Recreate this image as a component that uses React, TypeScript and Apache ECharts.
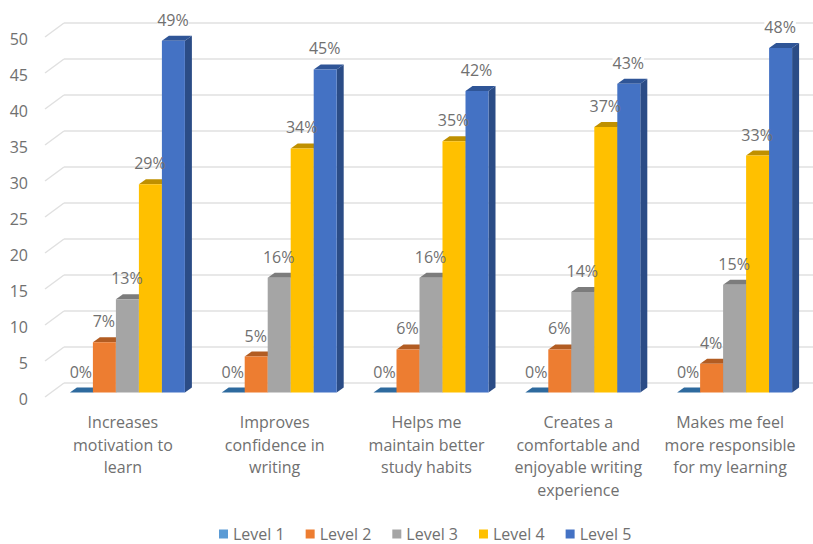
import React, { useEffect, useRef } from "react";
import * as echarts from "echarts";

const categories = [
  "Increases\nmotivation to\nlearn",
  "Improves\nconfidence in\nwriting",
  "Helps me\nmaintain better\nstudy habits",
  "Creates a\ncomfortable and\nenjoyable writing\nexperience",
  "Makes me feel\nmore responsible\nfor my learning",
];
const levelNames = ["Level 1", "Level 2", "Level 3", "Level 4", "Level 5"];
const level1 = [0, 0, 0, 0, 0];
const level2 = [7, 5, 6, 6, 4];
const level3 = [13, 16, 16, 14, 15];
const level4 = [29, 34, 35, 37, 33];
const level5 = [49, 45, 42, 43, 48];
const levels = [level1, level2, level3, level4, level5];
const yTicks = [0, 5, 10, 15, 20, 25, 30, 35, 40, 45, 50];

const FRONT = ["#5B9BD5", "#ED7D31", "#A5A5A5", "#FFC000", "#4472C4"];
const TOP = ["#2E6A9E", "#B25C22", "#7C7C7C", "#BF9000", "#2F5597"];
const SIDE = ["#2E6A9E", "#B25C22", "#7C7C7C", "#BF9000", "#2B4C86"];
const TEXT = "#707070";
const FONT = "'Open Sans', sans-serif";
const GRID_LINE = "#E0E0E0";

const BAR_W = 23;
const DX = 7;
const DY = 5;
const FRONT_SHIFT = 9.5;
const FRONT_SCALE = 0.997;

export default function App() {
  const ref = useRef<HTMLDivElement>(null);
  useEffect(() => {
    const chart = echarts.init(ref.current!, undefined, { renderer: "svg" });
    const wall: any = {
      type: "custom",
      silent: true,
      z: 1,
      clip: false,
      data: yTicks.map((t) => [0, t]),
      encode: { x: 0, y: 1 },
      renderItem: (params: any, api: any) => {
        const y = api.coord([0, api.value(1)])[1];
        const style = { stroke: GRID_LINE, lineWidth: 1.5, fill: "none" };
        return {
          type: "group",
          children: [
            { type: "line", shape: { x1: 64, y1: y, x2: 813, y2: y }, style },
            { type: "line", shape: { x1: 45, y1: y + 14, x2: 64, y2: y }, style },
          ],
        };
      },
    };
    const barTop = (api: any) => {
      const p = api.coord([api.value(0), api.value(1)]);
      const b = api.coord([api.value(0), 0]);
      const yb = b[1] + FRONT_SHIFT;
      return { x: p[0], yb, yt: yb - (b[1] - p[1]) * FRONT_SCALE };
    };
    const bars: any[] = levels.map((vals, i) => ({
      type: "custom",
      name: levelNames[i],
      z: 2 + i,
      clip: false,
      itemStyle: { color: FRONT[i] },
      data: vals.map((v, c) => [c, v]),
      encode: { x: 0, y: 1 },
      renderItem: (params: any, api: any) => {
        const { x, yb, yt } = barTop(api);
        const x0 = x + (i - 2) * BAR_W - BAR_W / 2 + 0.5;
        const x1 = x0 + BAR_W;
        const children: any[] = [
          {
            type: "polygon",
            shape: { points: [[x1, yb], [x1 + DX, yb - DY], [x1 + DX, yt - DY], [x1, yt]] },
            style: { fill: SIDE[i] },
          },
          {
            type: "polygon",
            shape: { points: [[x0, yt], [x1, yt], [x1 + DX, yt - DY], [x0 + DX, yt - DY]] },
            style: { fill: TOP[i] },
          },
        ];
        if (yb > yt) {
          children.push({
            type: "rect",
            shape: { x: x0, y: yt, width: BAR_W, height: yb - yt },
            style: { fill: FRONT[i] },
          });
        }
        return { type: "group", children };
      },
    }));
    const labels: any[] = levels.map((vals, i) => ({
      type: "custom",
      silent: true,
      z: 10 + i,
      clip: false,
      data: vals.map((v, c) => [c, v]),
      encode: { x: 0, y: 1 },
      renderItem: (params: any, api: any) => {
        const { x, yt } = barTop(api);
        return {
          type: "text",
          x: x + (i - 2) * BAR_W,
          y: yt - 21,
          style: {
            text: `${api.value(1)}%`,
            fill: TEXT,
            font: `16px ${FONT}`,
            align: "center",
            verticalAlign: "middle",
            backgroundColor: i === 4 ? "#fff" : undefined,
          },
        };
      },
    }));
    chart.setOption({
      animation: false,
      backgroundColor: "#fff",
      grid: { left: 51, right: 3, top: 23, height: 360, containLabel: false },
      legend: {
        data: levelNames,
        top: 526,
        left: 219,
        padding: 0,
        icon: "rect",
        itemWidth: 9,
        itemHeight: 9,
        itemGap: 21,
        textStyle: { color: TEXT, fontFamily: FONT, fontSize: 16 },
      },
      xAxis: {
        type: "category",
        data: categories,
        axisLine: { show: false },
        axisTick: { show: false },
        axisLabel: {
          color: TEXT,
          fontFamily: FONT,
          fontSize: 16,
          lineHeight: 22.5,
          margin: 28,
          interval: 0,
          padding: [0, 8, 0, 0],
        },
      },
      yAxis: {
        type: "value",
        min: 0,
        max: 50,
        interval: 5,
        axisLine: { show: false },
        axisTick: { show: false },
        splitLine: { show: false },
        axisLabel: {
          color: TEXT,
          fontFamily: FONT,
          fontSize: 16,
          margin: 23,
          verticalAlign: "top",
          lineHeight: 32,
        },
      },
      series: [wall, ...bars, ...labels],
    });
    return () => chart.dispose();
  }, []);
  return <div ref={ref} style={{ position: "absolute", left: 0, top: 0, width: 813, height: 544 }} />;
}
